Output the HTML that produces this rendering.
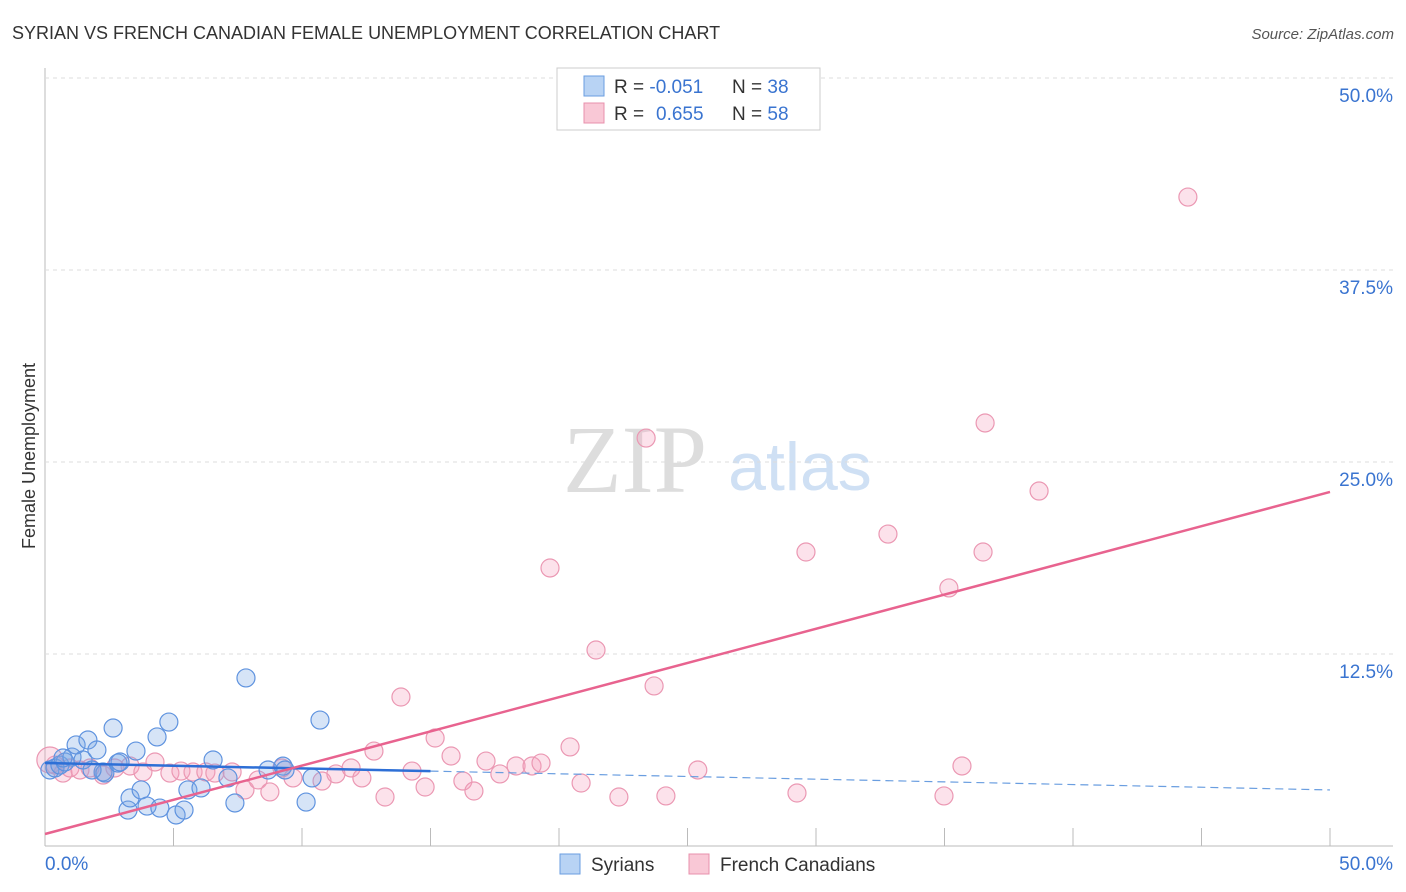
<!DOCTYPE html>
<html><head><meta charset="utf-8"><style>
body{margin:0;background:#fff;font-family:"Liberation Sans",sans-serif;}
</style></head><body>
<svg id="c" width="1406" height="892" style="position:absolute;left:0;top:0">
<text x="12" y="39" font-size="18" fill="#333">SYRIAN VS FRENCH CANADIAN FEMALE UNEMPLOYMENT CORRELATION CHART</text>
<text x="1394" y="39" font-size="15" fill="#555" font-style="italic" text-anchor="end">Source: ZipAtlas.com</text>
<text x="35" y="456" font-size="18" fill="#333" text-anchor="middle" transform="rotate(-90 35 456)">Female Unemployment</text>
<text x="635" y="492" font-size="96" fill="#ddd" font-family="Liberation Serif,serif" text-anchor="middle">ZIP</text>
<text x="800" y="490" font-size="68" fill="#cfe0f4" text-anchor="middle">atlas</text>
<g id="grid"></g><g id="pts"></g><g id="trend"></g>
<g>
<rect x="557" y="68" width="263" height="62" fill="#fff" stroke="#ccc"/>
<rect x="584" y="76" width="20" height="20" fill="#b8d3f4" stroke="#6a9ee0"/>
<rect x="584" y="103" width="20" height="20" fill="#f9c8d6" stroke="#e890ac"/>
<text x="614" y="93" font-size="19" fill="#333">R = <tspan fill="#3a74d0">-0.051</tspan><tspan x="732">N = </tspan><tspan fill="#3a74d0">38</tspan></text>
<text x="614" y="120" font-size="19" fill="#333">R = <tspan fill="#3a74d0" x="656">0.655</tspan><tspan x="732">N = </tspan><tspan fill="#3a74d0">58</tspan></text>
</g>
<g>
<rect x="560" y="854" width="20" height="20" fill="#b8d3f4" stroke="#6a9ee0"/>
<text x="591" y="871" font-size="19" fill="#333">Syrians</text>
<rect x="689" y="854" width="20" height="20" fill="#f9c8d6" stroke="#e890ac"/>
<text x="720" y="871" font-size="19" fill="#333">French Canadians</text>
</g>
</svg>
<script>
const syrX=[0.19,0.39,0.58,0.78,1.05,1.21,1.48,1.67,2.02,2.26,2.33,2.65,2.84,2.92,3.23,3.31,3.54,3.74,3.97,4.36,4.47,4.82,5.1,5.41,5.56,6.07,6.54,7.12,7.39,7.82,8.68,9.26,9.34,10.16,10.39,10.7,0.7,1.83];
const syrY=[4.95,5.08,5.27,5.47,5.79,6.58,5.6,6.9,6.25,4.82,4.75,7.68,5.4,5.47,2.34,3.13,6.18,3.65,2.6,7.1,2.47,8.07,2.02,2.34,3.65,3.78,5.6,4.43,2.8,10.94,4.95,5.2,4.95,2.86,4.43,8.2,5.73,4.95];
const frX=[0.19,0.39,0.7,0.97,1.36,1.75,2.26,2.72,3.31,3.81,4.28,4.86,5.29,5.76,6.26,6.61,7.28,7.78,8.29,8.75,9.22,9.65,10.78,11.32,11.91,12.33,12.8,13.23,13.85,14.28,14.79,15.18,15.8,16.26,16.69,17.16,17.7,18.33,18.95,19.3,19.65,20.43,20.86,21.44,22.33,23.39,23.7,24.16,25.4,29.26,29.61,32.8,34.98,35.17,35.68,36.5,36.58,38.68,44.47];
const frY=[5.6,5.27,4.75,5.08,4.95,5.08,4.62,5.08,5.21,4.82,5.47,4.75,4.88,4.82,4.82,4.75,4.82,3.65,4.3,3.52,5.08,4.43,4.23,4.69,5.08,4.43,6.18,3.19,9.7,4.88,3.84,7.03,5.86,4.23,3.58,5.53,4.69,5.21,5.21,5.4,18.1,6.45,4.1,12.76,3.19,26.56,10.42,3.26,4.95,3.45,19.14,20.31,3.26,16.8,5.21,19.14,27.54,23.11,42.25];
const yTicks=[12.5,25,37.5,50];
const yTickLabels=["12.5%","25.0%","37.5%","50.0%"];
const syrTrend=[5.4,3.65]; // y at x=0, x=50
const frTrend=[0.78,23.05];
const NS="http://www.w3.org/2000/svg";
const X=v=>45+v*25.7, Y=v=>846-v*15.36;
function mk(t,a,p){const e=document.createElementNS(NS,t);for(const k in a)e.setAttribute(k,a[k]);p.appendChild(e);return e;}
const g=document.getElementById('grid');
mk('line',{x1:45,y1:68,x2:45,y2:846,stroke:'#bbb'},g);
mk('line',{x1:45,y1:846,x2:1393,y2:846,stroke:'#bbb'},g);
for(let i=0;i<yTicks.length;i++){
 const l=mk('line',{x1:45,y1:Y(yTicks[i]),x2:1393,y2:Y(yTicks[i]),stroke:'#ddd','stroke-dasharray':'4,4'},g);
 
 
 const t=mk('text',{x:1393,y:Y(yTicks[i])+24,'font-size':19,fill:'#3a74d0','text-anchor':'end'},g);
 t.textContent=yTickLabels[i];
 
 
}
for(let i=1;i<=10;i++){const xx=X(i*5);mk('line',{x1:xx,y1:828,x2:xx,y2:846,stroke:'#bbb'},g);}
let t=mk('text',{x:45,y:870,'font-size':19,fill:'#3a74d0'},g);t.textContent='0.0%';


t=mk('text',{x:1393,y:870,'font-size':19,fill:'#3a74d0','text-anchor':'end'},g);t.textContent='50.0%';


const p=document.getElementById('pts');
for(let i=0;i<frX.length;i++){const c=mk('circle',{cx:X(frX[i]),cy:Y(frY[i]),r:i==0?13:9,fill:'rgba(245,160,190,0.3)',stroke:'#eb98b3','stroke-width':1.2},p);
 
 }
for(let i=0;i<syrX.length;i++){const c=mk('circle',{cx:X(syrX[i]),cy:Y(syrY[i]),r:9,fill:'rgba(120,165,230,0.3)',stroke:'#5f93df','stroke-width':1.2},p);
 
 }
const tr=document.getElementById('trend');
const sy=x=>syrTrend[0]+(syrTrend[1]-syrTrend[0])*x/50;
let l=mk('line',{x1:X(0),y1:Y(sy(0)),x2:X(15),y2:Y(sy(15)),stroke:'#2d6fd6','stroke-width':2.5},tr);


l=mk('line',{x1:X(15),y1:Y(sy(15)),x2:X(50),y2:Y(sy(50)),stroke:'#6a9ee0','stroke-width':1.2,'stroke-dasharray':'8,5'},tr);


l=mk('line',{x1:X(0),y1:Y(frTrend[0]),x2:X(50),y2:Y(frTrend[1]),stroke:'#e8638f','stroke-width':2.5},tr);


</script>
</body></html>
